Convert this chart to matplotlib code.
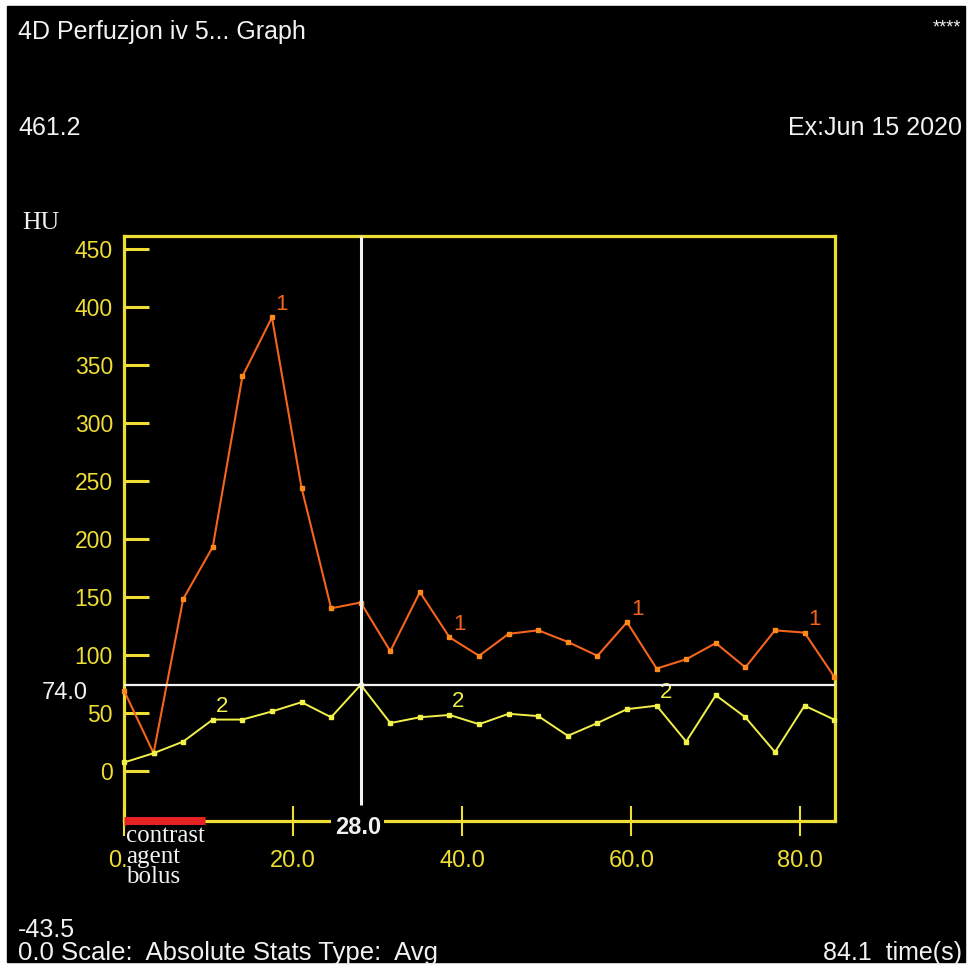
import matplotlib.pyplot as plt
from matplotlib.patches import Rectangle

# time points (s) and mean HU for the two ROIs
times = [0, 3.5, 7, 10.5, 14, 17.5, 21, 24.5, 28, 31.5, 35, 38.5, 42,
         45.5, 49, 52.5, 56, 59.5, 63, 66.5, 70, 73.5, 77, 80.5, 84]
roi1 = [69, 15, 148, 193, 340, 391, 244, 140, 145, 103, 154, 115, 99,
        118, 121, 111, 99, 128, 88, 96, 110, 89, 121, 119, 81]
roi2 = [7, 15, 25, 44, 44, 51, 59, 46, 74, 41, 46, 48, 40,
        49, 47, 30, 41, 53, 56, 25, 65, 46, 16, 56, 44]
roi1_label_idx = [5, 11, 17, 23]
roi2_label_idx = [3, 11, 18]

y_min, y_max = -43.5, 461.2
t_max = 84.1
y_ticks = [0, 50, 100, 150, 200, 250, 300, 350, 400, 450]
x_ticks = [0, 20, 40, 60, 80]
cursor_t = 28.0
cursor_hu = 74.0
bolus_start, bolus_end = 0, 9.6

W, H = 972, 967
YEL = '#EEDD33'
ORANGE = '#F4641C'
ORANGE_MK = '#FF8A1C'
LINE2 = '#F2F04A'
WHITE = '#F2F2F2'
SANS = 'Liberation Sans'
SERIF = 'Liberation Serif'

fig = plt.figure(figsize=(W / 100, H / 100), dpi=100)
fig.patch.set_facecolor('white')
fig.add_artist(Rectangle((7 / W, 5 / H), (965 - 7) / W, (961 - 5) / H,
                         transform=fig.transFigure, color='black', zorder=-10))


def px_text(x, y, s, **kw):
    kw.setdefault('color', WHITE)
    kw.setdefault('family', SANS)
    kw.setdefault('va', 'center')
    fig.text(x / W, 1 - y / H, s, **kw)


px_text(18, 32, '4D Perfuzjon iv 5... Graph', fontsize=18)
px_text(961, 28, '****', fontsize=13, ha='right')
px_text(18, 128, '461.2', fontsize=18)
px_text(962, 128, 'Ex:Jun 15 2020', fontsize=18, ha='right')
px_text(18, 930, '-43.5', fontsize=18)
px_text(18, 953, '0.0 Scale:  Absolute Stats Type:  Avg', fontsize=18.5)
px_text(962, 953, '84.1  time(s)', fontsize=18, ha='right')
px_text(22, 223, 'HU', fontsize=18.5, family=SERIF)

ax = fig.add_axes([124 / W, (H - 821) / H, (835 - 124) / W, (821 - 236) / H])
ax.set_facecolor('black')
ax.set_xlim(0, t_max)
ax.set_ylim(y_min, y_max)

for s in ax.spines.values():
    s.set_color(YEL)
    s.set_linewidth(2.3)

ax.set_yticks(y_ticks)
ax.set_yticklabels([str(v) for v in y_ticks])
ax.set_xticks(x_ticks)
ax.set_xticklabels(['%.1f' % v for v in x_ticks])
ax.tick_params(axis='y', direction='in', length=18, width=2.2, color=YEL,
               labelcolor=YEL, labelsize=16.5, pad=8)
ax.tick_params(axis='x', direction='inout', length=22, width=1.5, color=YEL,
               labelcolor=YEL, labelsize=17, pad=10)
for lab in ax.get_xticklabels() + ax.get_yticklabels():
    lab.set_family(SANS)

# ROI curves
ax.plot(times, roi1, color=ORANGE, lw=1.5, marker='s', ms=3.5,
        mfc=ORANGE_MK, mec=ORANGE_MK, zorder=4, clip_on=False)
ax.plot(times, roi2, color=LINE2, lw=1.4, marker='s', ms=3.5,
        mfc=LINE2, mec=LINE2, zorder=4, clip_on=False)
for i in roi1_label_idx:
    ax.annotate('1', (times[i], roi1[i]), xytext=(10, 13),
                textcoords='offset pixels', color=ORANGE, fontsize=16,
                family=SANS, ha='center', va='center')
for i in roi2_label_idx:
    ax.annotate('2', (times[i], roi2[i]), xytext=(9, 13),
                textcoords='offset pixels', color=LINE2, fontsize=16,
                family=SANS, ha='center', va='center')

# cursor
ax.axhline(cursor_hu, color=WHITE, lw=1.6, zorder=5)
ax.plot([cursor_t, cursor_t], [-30, y_max], color=WHITE, lw=2.2, zorder=5,
        solid_capstyle='butt')
ax.annotate('%.1f' % cursor_hu, (0, cursor_hu),
            xycoords=('axes fraction', 'data'), xytext=(-36, -8),
            textcoords='offset pixels', color=WHITE, fontsize=17,
            family=SANS, ha='right', va='center')
ax.annotate('%.1f' % cursor_t, (cursor_t, y_min), xytext=(-3, -7),
            textcoords='offset pixels', color=WHITE, fontsize=17,
            family=SANS, weight='bold', ha='center', va='center',
            annotation_clip=False, zorder=8,
            bbox=dict(boxstyle='square,pad=0.15', fc='black', ec='none'))

# contrast agent bolus
ax.plot([bolus_start, bolus_end], [y_min, y_min], color='#E42222', lw=6.5,
        solid_capstyle='butt', clip_on=False, zorder=6)
ax.annotate('contrast\nagent\nbolus', (bolus_start, y_min), xytext=(2, -4),
            textcoords='offset pixels', color=WHITE, fontsize=18,
            family=SERIF, ha='left', va='top', linespacing=0.92,
            annotation_clip=False, zorder=8,
            bbox=dict(boxstyle='square,pad=0.0', fc='black', ec='none'))

fig.savefig('out.png', dpi=100, facecolor=fig.get_facecolor())
